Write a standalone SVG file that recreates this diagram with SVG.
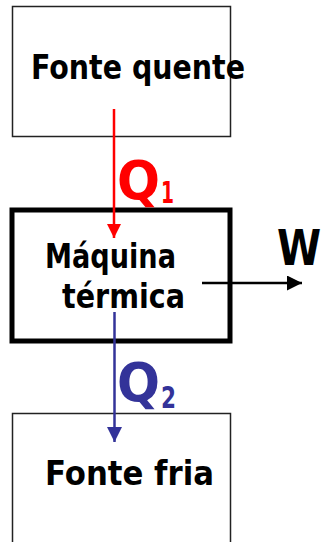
<svg xmlns="http://www.w3.org/2000/svg" width="323" height="542" viewBox="0 0 323 542">
<style>
.box{fill:#fff;stroke:#222;stroke-width:1.5}
.t{font-family:"DejaVu Sans","Liberation Sans",sans-serif;font-weight:bold;font-size:34px;fill:#000}
.q{font-family:"DejaVu Sans","Liberation Sans",sans-serif;font-weight:bold;font-size:54px}
.s{font-family:"DejaVu Sans","Liberation Sans",sans-serif;font-weight:bold;font-size:31px}
.w{font-family:"DejaVu Sans","Liberation Sans",sans-serif;font-weight:bold;font-size:40px;fill:#000}
</style>
<defs>
<marker id="ar" viewBox="0 0 10 10" refX="10" refY="5" markerWidth="14" markerHeight="14" markerUnits="userSpaceOnUse" orient="auto"><path d="M0,0 L10,5 L0,10 z" fill="#f00"/></marker>
<marker id="ab" viewBox="0 0 10 10" refX="10" refY="5" markerWidth="15" markerHeight="15" markerUnits="userSpaceOnUse" orient="auto"><path d="M0,0 L10,5 L0,10 z" fill="#333399"/></marker>
<marker id="ak" viewBox="0 0 10 10" refX="10" refY="5" markerWidth="15" markerHeight="15" markerUnits="userSpaceOnUse" orient="auto"><path d="M0,0 L10,5 L0,10 z" fill="#000"/></marker>
</defs>
<g id="fonte-quente">
<rect class="box" x="12.5" y="6.5" width="218" height="130"/>
<text class="t" x="31" y="79" textLength="214" lengthAdjust="spacingAndGlyphs">Fonte quente</text>
</g>
<g id="maquina">
<rect x="12" y="210" width="218" height="131" fill="#fff" stroke="#000" stroke-width="5"/>
<text class="t" x="45" y="268" textLength="131" lengthAdjust="spacingAndGlyphs">Máquina</text>
<text class="t" x="62" y="308" textLength="123" lengthAdjust="spacingAndGlyphs">térmica</text>
</g>
<g id="fonte-fria">
<rect class="box" x="12.5" y="413.5" width="218" height="140"/>
<text class="t" x="45" y="485" textLength="169" lengthAdjust="spacingAndGlyphs">Fonte fria</text>
</g>
<g id="connectors">
<line x1="114" y1="109" x2="114" y2="238" stroke="#f00" stroke-width="2.5" marker-end="url(#ar)"/>
<line x1="114.5" y1="312" x2="114.5" y2="442" stroke="#333399" stroke-width="2.5" marker-end="url(#ab)"/>
<line x1="202" y1="283" x2="302" y2="283" stroke="#000" stroke-width="2.5" marker-end="url(#ak)"/>
</g>
<g id="labels">
<text class="q" x="117" y="199" fill="#f00" textLength="43" lengthAdjust="spacingAndGlyphs">Q</text>
<text class="s" x="161" y="203" fill="#f00" textLength="13" lengthAdjust="spacingAndGlyphs">1</text>
<text class="q" x="117" y="401" fill="#333399" textLength="43" lengthAdjust="spacingAndGlyphs">Q</text>
<text class="s" x="161" y="408" fill="#333399" textLength="15" lengthAdjust="spacingAndGlyphs">2</text>
<text class="w" transform="translate(277,265) scale(1,1.25)">W</text>
</g>
</svg>
